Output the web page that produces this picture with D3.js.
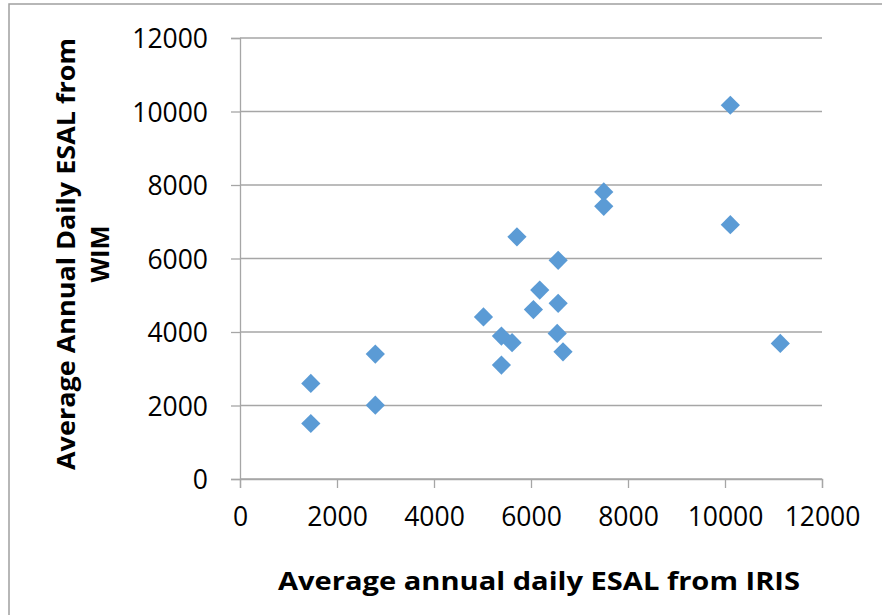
<!DOCTYPE html>
<html>
<head>
<meta charset="utf-8">
<script src="https://cdn.jsdelivr.net/npm/d3@7"></script>
<style>
  body { margin: 0; background: #fff; }
  svg { display: block; font-family: "Open Sans", "DejaVu Sans", sans-serif; }
</style>
</head>
<body>
<svg id="chart" width="882" height="615"></svg>
<script>
// values
const iris = [1460, 1460, 2790, 2790, 5020, 5390, 5610, 5390, 5710, 6050, 6180, 6560, 6560, 6540, 6660, 7500, 7500, 10110, 10110, 11140];
const wim  = [2600, 1510, 3400, 2010, 4410, 3890, 3710, 3100, 6590, 4610, 5140, 5950, 4780, 3960, 3460, 7810, 7420, 10170, 6920, 3690];
const xTicks = [0, 2000, 4000, 6000, 8000, 10000, 12000];
const yTicks = [0, 2000, 4000, 6000, 8000, 10000, 12000];
const xTitle = "Average annual daily ESAL from IRIS";
const yTitle = ["Average Annual Daily ESAL from", "WIM"];

var svg = d3.select("#chart"),
    width = +svg.attr("width"),
    height = +svg.attr("height");

const plotLeft = 240, plotRight = 822, plotTop = 38, plotBottom = 479;
const gridColor = "#a6a6a6";

// outer chart border
svg.append("rect")
    .attr("x", 9).attr("y", 4)
    .attr("width", width + 10).attr("height", height + 10)
    .attr("fill", "none").attr("stroke", "#a0a0a0").attr("stroke-width", 1.5);

var x = d3.scaleLinear().domain([0, 12000]).range([plotLeft, plotRight]);
var y = d3.scaleLinear().domain([0, 12000]).range([plotBottom, plotTop]);

// horizontal grid
svg.append("g")
    .selectAll("line")
    .data(yTicks)
    .enter().append("line")
    .attr("x1", plotLeft).attr("x2", plotRight)
    .attr("y1", d => y(d)).attr("y2", d => y(d))
    .attr("stroke", gridColor).attr("stroke-width", 1.3);

// y axis
var yAxis = svg.append("g")
    .attr("transform", "translate(" + plotLeft + ",0)")
    .call(d3.axisLeft(y).tickValues(yTicks).tickSize(9).tickPadding(23).tickFormat(d3.format("d")));
yAxis.select(".domain").attr("stroke", gridColor).attr("stroke-width", 1.3);
yAxis.selectAll(".tick line").attr("stroke", gridColor).attr("stroke-width", 1.3);
yAxis.selectAll("text").attr("font-size", 26.5).attr("fill", "#000").attr("dy", "0.36em")
    .attr("font-family", "'Open Sans', sans-serif");

// x axis
var xAxis = svg.append("g")
    .attr("transform", "translate(0," + plotBottom + ")")
    .call(d3.axisBottom(x).tickValues(xTicks).tickSize(9).tickPadding(19).tickFormat(d3.format("d")));
xAxis.select(".domain").attr("stroke", gridColor).attr("stroke-width", 1.3);
xAxis.selectAll(".tick line").attr("stroke", gridColor).attr("stroke-width", 1.3);
xAxis.selectAll("text").attr("font-size", 26.5).attr("fill", "#000")
    .attr("font-family", "'Open Sans', sans-serif");

// points
const pts = iris.map((v, i) => ({x: v, y: wim[i]}));
svg.append("g")
    .selectAll("path")
    .data(pts)
    .enter().append("path")
    .attr("d", d3.symbol(d3.symbolSquare, 185))
    .attr("transform", d => "translate(" + x(d.x) + "," + y(d.y) + ") rotate(45)")
    .attr("fill", "#5b9bd5");

// axis titles
svg.append("text")
    .attr("x", 539).attr("y", 590)
    .attr("text-anchor", "middle")
    .attr("font-size", 25.5).attr("font-weight", "bold")
    .attr("textLength", 522).attr("lengthAdjust", "spacingAndGlyphs")
    .text(xTitle);

var yt = svg.append("text")
    .attr("transform", "translate(75,254) rotate(-90)")
    .attr("text-anchor", "middle")
    .attr("font-size", 25.5).attr("font-weight", "bold");
yt.append("tspan").attr("x", 0).attr("y", 0)
    .attr("textLength", 432).attr("lengthAdjust", "spacingAndGlyphs")
    .text(yTitle[0]);
yt.append("tspan").attr("x", 0).attr("y", 34).text(yTitle[1]);
</script>
</body>
</html>
